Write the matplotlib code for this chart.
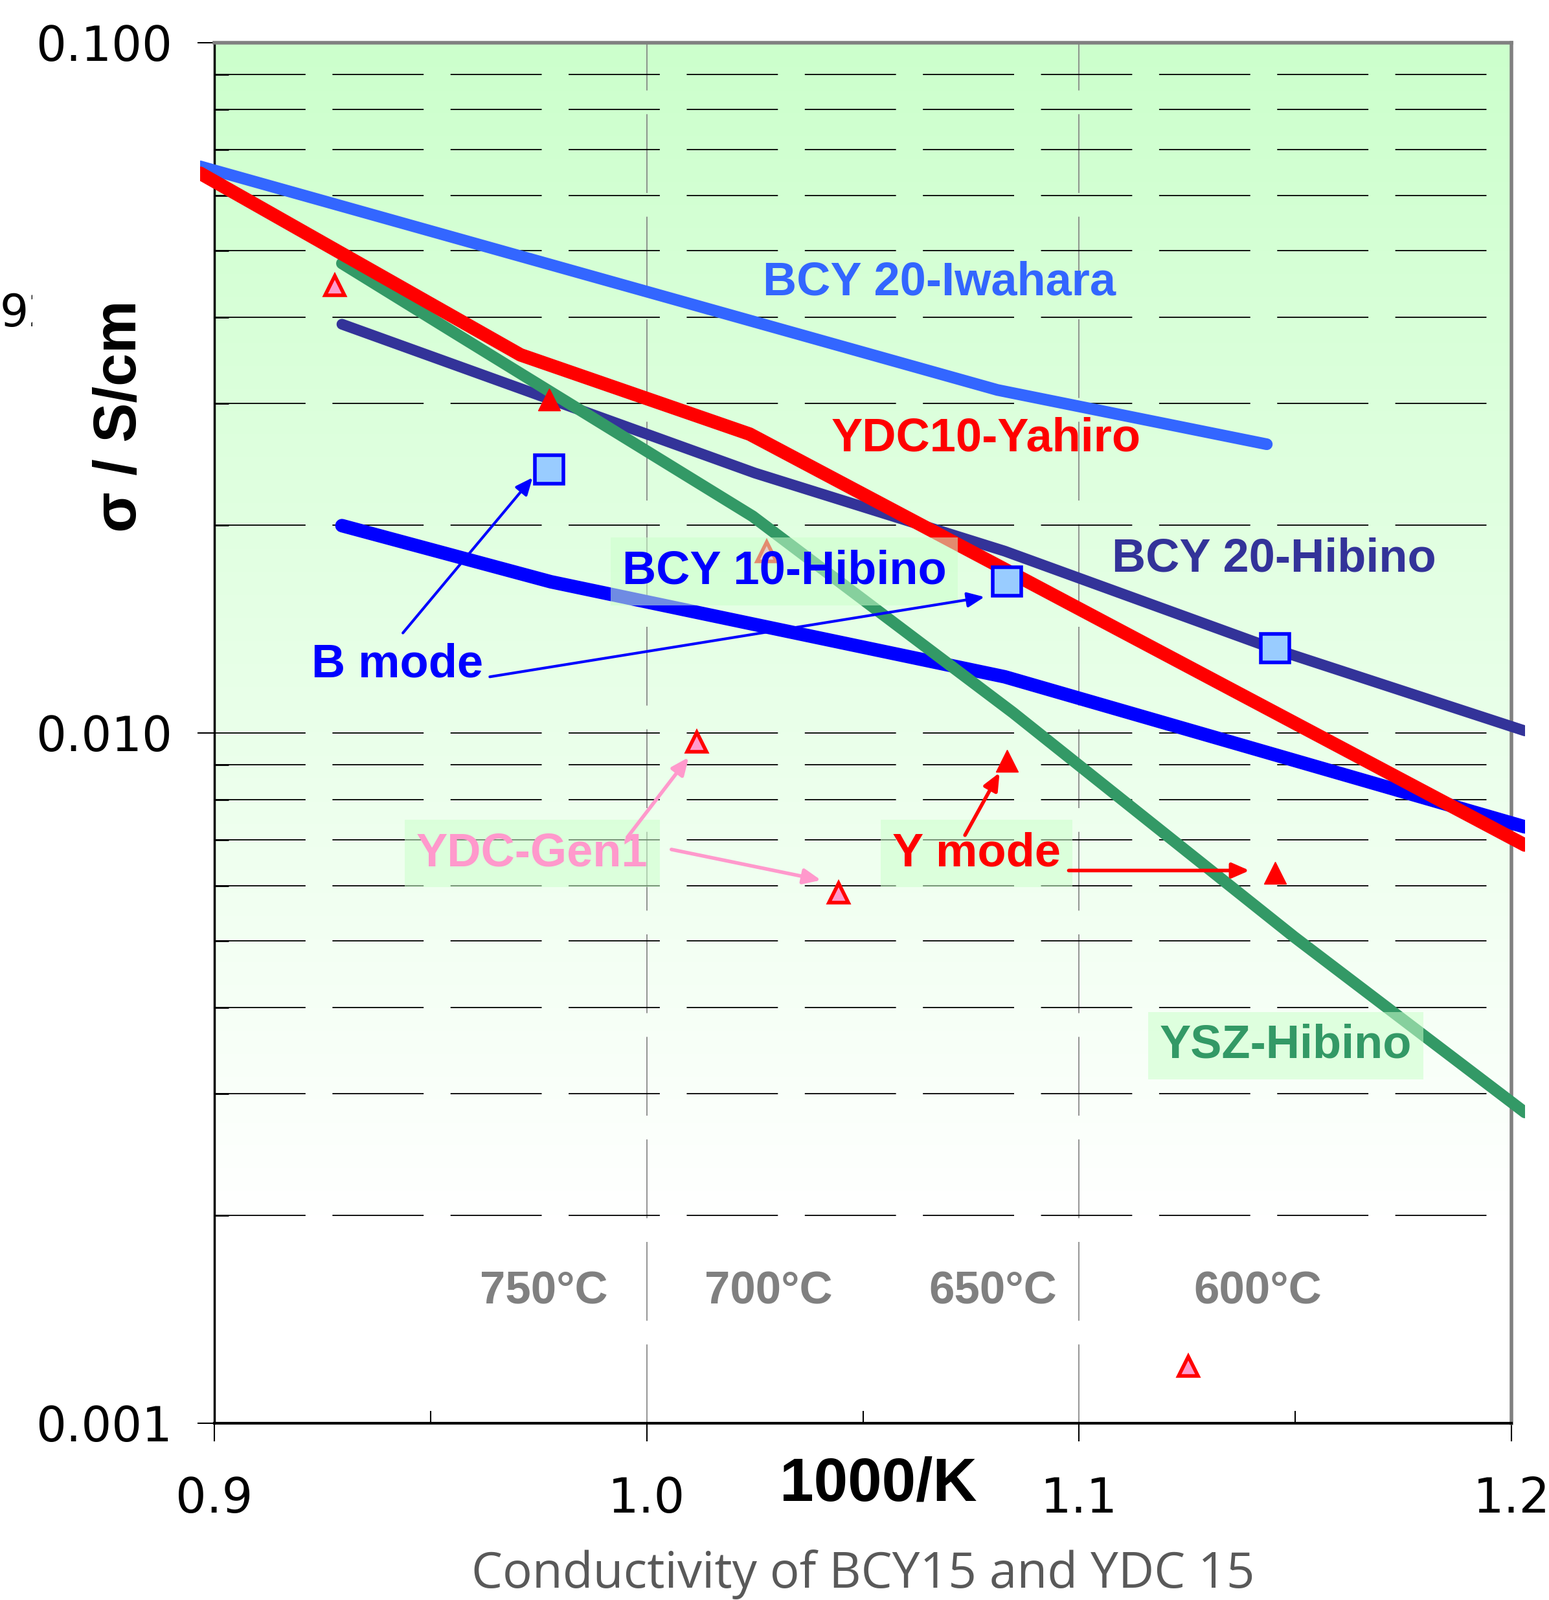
import numpy as np
import matplotlib
matplotlib.use('Agg')
import matplotlib.pyplot as plt
from matplotlib.ticker import FixedLocator, NullFormatter, LogLocator
from matplotlib.transforms import Bbox, TransformedBbox

# values (x = 1000/K, y = sigma in S/cm)
iwahara_x = [0.8967, 1.0811, 1.1434]
iwahara_y = [0.0662, 0.0314, 0.0262]

yahiro_x = [0.8967, 0.9708, 1.0238, 1.2031]
yahiro_y = [0.0647, 0.0353, 0.0271, 0.00688]

bcy20_x = [0.9295, 1.0250, 1.0828, 1.1453, 1.2031]
bcy20_y = [0.0391, 0.0238, 0.01834, 0.01322, 0.01007]

bcy10_x = [0.9295, 0.9778, 1.0828, 1.2031]
bcy10_y = [0.01997, 0.01656, 0.01206, 0.00731]

ysz_x = [0.9295, 0.9552, 1.0245, 1.0847, 1.1498, 1.2031]
ysz_y = [0.0479, 0.0381, 0.0206, 0.0107, 0.00506, 0.00282]

gen1_x = [0.9278, 1.0116, 1.0278, 1.0443, 1.1252]
gen1_y = [0.0445, 0.0097, 0.0183, 0.00586, 0.00121]

ymode_x = [0.9774, 1.0833, 1.1453]
ymode_y = [0.0304, 0.00912, 0.00627]

bmode_x = [0.9774, 1.0833, 1.1453]
bmode_y = [0.0241, 0.01656, 0.01327]

temp_labels = ['750°C', '700°C', '650°C', '600°C']
temp_label_x = [0.9762, 1.0281, 1.0800, 1.1413]
x_ticks = [0.9, 1.0, 1.1, 1.2]
x_ticklabels = ['0.9', '1.0', '1.1', '1.2']
y_ticks = [0.001, 0.01, 0.1]
y_ticklabels = ['0.001', '0.010', '0.100']

LBL = 'Liberation Sans'

fig = plt.figure(figsize=(23.92, 24.71), dpi=100)
ax = fig.add_axes([0.1384, 0.1105, 0.8374, 0.8628])
ax.set_xlim(0.9, 1.2)
ax.set_yscale('log')
ax.set_ylim(0.001, 0.1)

# background: light green fading to white at 0.002
n = 400
f = np.linspace(0, 1, n)
cut = (np.log10(0.002) + 3) / 2
t = np.clip((f - cut) / (1 - cut), 0, 1)
green = np.array([0.8, 1.0, 0.8])
img = 1 - t[:, None] * (1 - green)[None, :]
ax.imshow(img[:, None, :], extent=[0, 1, 0, 1], transform=ax.transAxes,
          origin='lower', aspect='auto', zorder=0, interpolation='bilinear')

# grids
ax.yaxis.set_major_locator(FixedLocator(y_ticks))
ax.yaxis.set_minor_locator(LogLocator(base=10, subs=np.arange(2, 10)))
ax.yaxis.set_minor_formatter(NullFormatter())
ax.set_yticklabels(y_ticklabels)
ax.set_xticks(x_ticks)
ax.set_xticklabels(x_ticklabels)
ax.xaxis.set_minor_locator(FixedLocator([0.95, 1.05, 1.15]))
ax.yaxis.grid(True, which='both', color='black', lw=1.3, linestyle=(0, (78, 23)), zorder=1)
ax.xaxis.grid(True, which='major', color='#808080', lw=1.2, linestyle=(0, (73, 22)), zorder=1)
ax.set_axisbelow(True)

for lab in ax.get_xticklabels() + ax.get_yticklabels():
    lab.set_fontfamily('DejaVu Sans')
ax.tick_params(axis='y', which='major', direction='out', length=19, width=1.5, labelsize=53, pad=28)
ax.tick_params(axis='y', which='minor', direction='in', length=16, width=2)
ax.tick_params(axis='x', which='major', direction='out', length=20, width=1.5, labelsize=54, pad=38)
ax.tick_params(axis='x', which='minor', direction='in', length=14, width=1.5)

ax.spines['left'].set_linewidth(2.5)
ax.spines['bottom'].set_linewidth(3)
for s in ['top', 'right']:
    ax.spines[s].set_color('#808080')
    ax.spines[s].set_linewidth(4)

# lines may run a little past the axes, like the original
clip = TransformedBbox(Bbox([[0.8967, 0.0005], [1.2031, 0.2]]), ax.transData)

def curve(x, y, color, lw):
    ln, = ax.plot(x, y, color=color, lw=lw, solid_capstyle='round', zorder=3)
    ln.set_clip_box(clip)

curve(iwahara_x, iwahara_y, '#3366FF', 13)
curve(bcy20_x, bcy20_y, '#333399', 12)
curve(bcy10_x, bcy10_y, '#0000FF', 15)
curve(ysz_x, ysz_y, '#339966', 13)
curve(yahiro_x, yahiro_y, '#FF0000', 15)

ax.plot(gen1_x, gen1_y, '^', ms=22, mfc='#FF99CC', mec='#FF0000', mew=4, zorder=4, clip_on=False)
ax.plot(ymode_x, ymode_y, '^', ms=25, mfc='#FF0000', mec='#FF0000', mew=1, zorder=4)
ax.plot(bmode_x, bmode_y, 's', ms=32, mfc='#99CCFF', mec='#0000FF', mew=4, zorder=4)

# labels on the plot
box = dict(boxstyle='square,pad=0.25', fc='#ccffcc', ec='none', alpha=0.55)
ax.text(1.0269, 0.0449, 'BCY 20-Iwahara', color='#3366FF', fontsize=52, fontweight='bold', family=LBL, va='center', zorder=5)
ax.text(1.0427, 0.0267, 'YDC10-Yahiro', color='#FF0000', fontsize=52, fontweight='bold', family=LBL, va='center', zorder=5)
ax.text(1.1075, 0.01785, 'BCY 20-Hibino', color='#333399', fontsize=52, fontweight='bold', family=LBL, va='center', zorder=5)
ax.text(0.9943, 0.01714, 'BCY 10-Hibino', color='#0000FF', fontsize=52, fontweight='bold', family=LBL, va='center', zorder=5, bbox=box)
ax.text(0.9224, 0.01256, 'B mode', color='#0000FF', fontsize=52, fontweight='bold', family=LBL, va='center', zorder=5)
ax.text(0.9467, 0.00669, 'YDC-Gen1', color='#FF99CC', fontsize=52, fontweight='bold', family=LBL, va='center', zorder=5, bbox=box)
ax.text(1.0568, 0.00669, 'Y mode', color='#FF0000', fontsize=52, fontweight='bold', family=LBL, va='center', zorder=5, bbox=box)
ax.text(1.1186, 0.003526, 'YSZ-Hibino', color='#339966', fontsize=52, fontweight='bold', family=LBL, va='center', zorder=5, bbox=box)

for lab, xl in zip(temp_labels, temp_label_x):
    ax.text(xl, 0.00155, lab, color='#808080', fontsize=51,
            fontweight='bold', family=LBL, ha='center', va='center', zorder=5)

# arrows
def arrow(x0, y0, x1, y1, color, lw=3):
    ax.annotate('', xy=(x1, y1), xytext=(x0, y0), zorder=5,
                arrowprops=dict(arrowstyle='-|>,head_length=1.6,head_width=0.7', color=color, lw=lw, shrinkA=0, shrinkB=0))

arrow(0.9436, 0.01396, 0.9736, 0.02344, '#0000FF')
arrow(0.9637, 0.01206, 1.0781, 0.01574, '#0000FF')
arrow(0.9955, 0.00706, 1.0097, 0.00922, '#FF99CC', 4)
arrow(1.0057, 0.00678, 1.0403, 0.00612, '#FF99CC', 4)
arrow(1.0736, 0.00711, 1.0816, 0.00876, '#FF0000', 4)
arrow(1.0976, 0.00632, 1.1394, 0.00632, '#FF0000', 4)

# axis titles
fig.text(0.0778, 0.74, 'σ / S/cm', rotation=90, fontsize=66, fontweight='bold',
         family=[LBL, 'DejaVu Sans'], ha='center', va='center')
fig.text(0.567, 0.072, '1000/K', fontsize=68, fontweight='bold', family=LBL, ha='center', va='center')
fig.text(0.557, 0.016, 'Conductivity of BCY15 and YDC 15', fontsize=55, color='#595959',
         family='Open Sans', ha='center', va='center')

# clipped leftover at the left edge
stray = fig.text(0.0, 0.804, '92', fontsize=50, family='DejaVu Sans', ha='left', va='center')
stray.set_clip_box(TransformedBbox(Bbox([[0, 0], [0.021, 1]]), fig.transFigure))
stray.set_clip_on(True)

fig.savefig('out.png', dpi=100)
